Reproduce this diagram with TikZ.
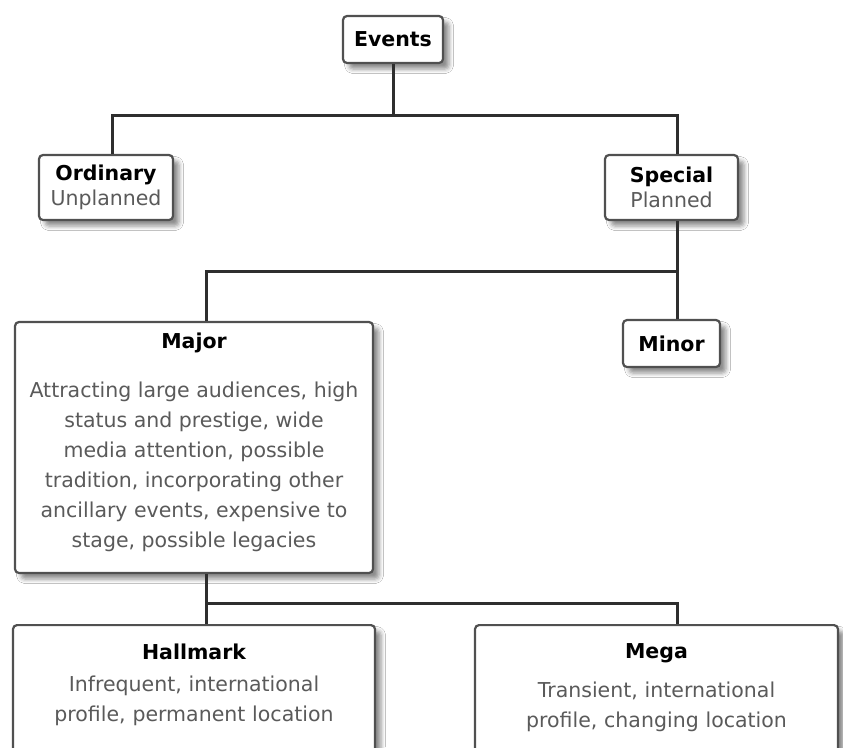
\documentclass[tikz,border=0pt]{standalone}
\usepackage{fontspec}
\setmainfont{DejaVu Sans}
\usetikzlibrary{shadows.blur}

\definecolor{boxline}{HTML}{505050}
\definecolor{bodytext}{HTML}{5A5A5A}
\definecolor{linkline}{HTML}{2E2E2E}

\tikzset{
  evbox/.style={draw=boxline, line width=2.2pt, rounded corners=4pt, fill=white,
    align=center, text=bodytext,
    blur shadow={shadow xshift=6pt, shadow yshift=-6pt, shadow blur radius=4.5pt, shadow opacity=45}},
  link/.style={draw=linkline, line width=3pt},
  tight/.style={font=\fontsize{20.5}{25}\selectfont},
}
\newcommand{\evtitle}[1]{{\bfseries\color{black}#1}}

\begin{document}
\begin{tikzpicture}[x=1pt, y=-1pt, font=\fontsize{20.5}{30}\selectfont]
  \clip (0,0) rectangle (843,747);
  \fill[white] (0,0) rectangle (843,747);

  % boxes
  \node[evbox, minimum width=100, minimum height=47] (events) at (393,39.5) {\evtitle{Events}};
  \node[evbox, tight, minimum width=134, minimum height=65] (ordinary) at (106,187.5) {\evtitle{Ordinary}\\Unplanned};
  \node[evbox, tight, minimum width=133, minimum height=65] (special) at (671.5,187.5) {\evtitle{Special}\\Planned};
  \node[evbox, minimum width=97, minimum height=47] (minor) at (671.5,343.5) {\evtitle{Minor}};
  \node[evbox, minimum width=358, minimum height=251] (major) at (194,447.5)
    {\evtitle{Major}\\[19pt]Attracting large audiences, high\\status and prestige, wide\\media attention, possible\\tradition, incorporating other\\ancillary events, expensive to\\stage, possible legacies\rule[-14pt]{0pt}{1pt}};
  \node[evbox, anchor=north, text width=330, minimum width=362, inner ysep=18.5, text depth=80] (hallmark) at (194,624)
    {\evtitle{Hallmark}\\[2pt]Infrequent, international\\profile, permanent location};
  \node[evbox, anchor=north, text width=330, minimum width=363, inner ysep=18.5, text depth=80] (mega) at (656.5,624)
    {\evtitle{Mega}\\[9pt]Transient, international\\profile, changing location};

  % connectors
  \draw[link] (events.south) -- (events.south |- 0,115) coordinate (busA);
  \draw[link] ([xshift=6]ordinary.north) |- (busA) -| ([xshift=5.5]special.north);
  \draw[link] ([xshift=5.5]special.south) -- ([xshift=5.5]minor.north);
  \coordinate (busB) at ([xshift=5.5]special.south |- 0,271);
  \draw[link] ([xshift=12]major.north) |- (busB);
  \coordinate (busC) at ([xshift=12]major.south |- 0,603);
  \draw[link] ([xshift=12]major.south) -- (busC |- hallmark.north);
  \draw[link] (busC) -| ([xshift=20.5]mega.north);
\end{tikzpicture}
\end{document}
